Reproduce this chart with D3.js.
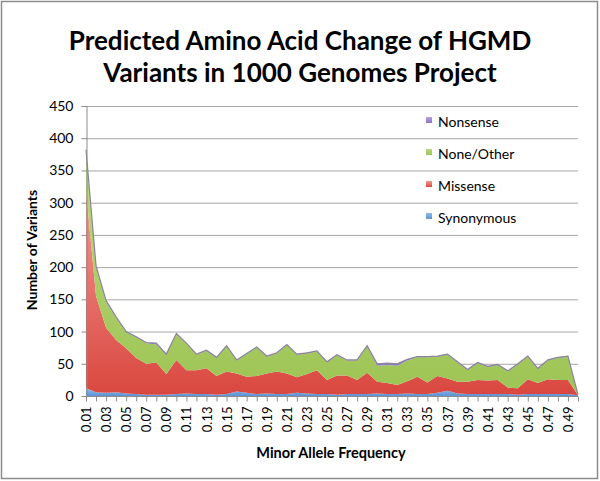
<!DOCTYPE html>
<html><head><meta charset="utf-8">
<script src="https://cdn.jsdelivr.net/npm/d3@7"></script>
<style>body{margin:0;background:#fff}svg{display:block}</style>
</head><body>
<svg id="c" width="600" height="481"></svg>
<script>
const categories = ["0.01","0.02","0.03","0.04","0.05","0.06","0.07","0.08","0.09","0.10",
"0.11","0.12","0.13","0.14","0.15","0.16","0.17","0.18","0.19","0.20",
"0.21","0.22","0.23","0.24","0.25","0.26","0.27","0.28","0.29","0.30",
"0.31","0.32","0.33","0.34","0.35","0.36","0.37","0.38","0.39","0.40",
"0.41","0.42","0.43","0.44","0.45","0.46","0.47","0.48","0.49","0.50"];
const synonymous = [12,6,5,6,4,3,2,2,2,3, 4,3,3,2,3,7,5,3,4,3, 3,5,4,3,3,2,3,3,3,4, 3,3,4,3,3,5,8,4,3,3, 3,3,3,2,3,3,3,3,3,1];
const missense   = [308,149,101,81,70,56,48,50,32,53, 36,37,40,29,35,28,25,28,31,35, 32,24,30,37,22,30,29,22,33,18, 17,14,19,27,18,26,19,18,19,22, 21,22,10,10,23,17,23,22,22,0];
const noneOther  = [58,45,40,34,25,32,32,28,30,40, 41,24,27,28,39,20,35,44,26,28, 44,35,32,29,27,31,23,30,41,25, 28,30,32,30,39,30,37,30,18,26, 21,23,25,37,35,22,29,34,36,1];
const nonsense   = [4,2,2,2,1,1,1,2,1,1, 1,1,1,1,1,1,1,1,1,1, 1,1,1,1,1,1,1,1,1,3, 3,3,2,1,1,1,1,1,1,1, 1,1,1,1,1,1,1,1,1,0];
const seriesNames = ["Synonymous","Missense","None/Other","Nonsense"];
const yTicks = [0,50,100,150,200,250,300,350,400,450];

const rows = categories.map((c,i)=>({cat:c, "Synonymous":synonymous[i], "Missense":missense[i], "None/Other":noneOther[i], "Nonsense":nonsense[i]}));
const stack = d3.stack().keys(seriesNames)(rows);

const svg = d3.select("#c");
const font = "Lato, 'Open Sans', sans-serif";
const L=86, R=578, T=106, B=396;
const x = d3.scalePoint().domain(categories).range([L,R]);
const y = d3.scaleLinear().domain([0,450]).range([B,T]);

// outer border
svg.append("rect").attr("x",1.5).attr("y",1.5).attr("width",596).attr("height",477)
  .attr("fill","#fff").attr("stroke","#8c8c8c").attr("stroke-width",1.5);

const defs = svg.append("defs");
const grads = {
  "Synonymous":["#8fbbe8","#5d93d4"],
  "Missense":["#f19a94","#d9473f"],
  "None/Other":["#bcd97a","#9dc455"],
  "Nonsense":["#b9a3d9","#8e72bf"]
};
seriesNames.forEach((k,i)=>{
  const g = defs.append("linearGradient").attr("id","g"+i).attr("x1",0).attr("y1",0).attr("x2",0).attr("y2",1);
  g.append("stop").attr("offset","0%").attr("stop-color",grads[k][0]);
  g.append("stop").attr("offset","100%").attr("stop-color",grads[k][1]);
});

// gridlines
svg.append("g").selectAll("line").data(yTicks.filter(v=>v>0)).join("line")
  .attr("x1",L).attr("x2",R).attr("y1",d=>y(d)+0.5).attr("y2",d=>y(d)+0.5)
  .attr("stroke","#a6a6a6").attr("stroke-width",1);

// areas
const area = d3.area().x(d=>x(d.data.cat)).y0(d=>y(d[0])).y1(d=>y(d[1]));
const line = d3.line().x(d=>x(d.data.cat)).y(d=>y(d[1]));
svg.append("g").selectAll("path").data(stack).join("path")
  .attr("d",area).attr("fill",(d,i)=>`url(#g${i})`);
svg.append("path").datum(stack[3]).attr("d",line).attr("fill","none")
  .attr("stroke","#8a8699").attr("stroke-width",1.2);

// y axis
const ya = svg.append("g").attr("transform",`translate(${L+0.5},0)`)
  .call(d3.axisLeft(y).tickValues(yTicks).tickSize(5).tickSizeOuter(0).tickPadding(8));
ya.select(".domain").attr("stroke","#8c8c8c");
ya.selectAll(".tick line").attr("stroke","#8c8c8c");
ya.selectAll("text").attr("font-family",font).attr("font-size",14).attr("fill","#000");

// x axis
const xa = svg.append("g").attr("transform",`translate(0,${B+0.5})`)
  .call(d3.axisBottom(x).tickSize(5).tickSizeOuter(0).tickFormat((d,i)=>i%2===0?d:""));
xa.select(".domain").attr("stroke","#8c8c8c").attr("d",`M${L},0H${R}`);
xa.selectAll(".tick line").attr("stroke","#8c8c8c");
xa.selectAll("text").attr("font-family",font).attr("font-size",13).attr("fill","#000")
  .attr("transform","rotate(-90)").attr("text-anchor","end").attr("x",-10).attr("y",0).attr("dy","0.35em");

// titles
svg.append("text").attr("x",300).attr("y",50).attr("text-anchor","middle")
  .attr("font-family",font).attr("font-weight","bold").attr("font-size",26).text("Predicted Amino Acid Change of HGMD");
svg.append("text").attr("x",300).attr("y",82).attr("text-anchor","middle")
  .attr("font-family",font).attr("font-weight","bold").attr("font-size",26).text("Variants in 1000 Genomes Project");
svg.append("text").attr("transform","translate(37,250) rotate(-90)").attr("text-anchor","middle")
  .attr("font-family",font).attr("font-weight","bold").attr("font-size",14).text("Number of Variants");
svg.append("text").attr("x",331).attr("y",458).attr("text-anchor","middle")
  .attr("font-family",font).attr("font-weight","bold").attr("font-size",14.5).text("Minor Allele Frequency");

// legend
const legendOrder = ["Nonsense","None/Other","Missense","Synonymous"];
const lg = svg.append("g").selectAll("g").data(legendOrder).join("g")
  .attr("transform",(d,i)=>`translate(426,${122+i*32})`);
lg.append("rect").attr("x",0).attr("y",-5).attr("width",6).attr("height",6)
  .attr("fill",d=>`url(#g${seriesNames.indexOf(d)})`);
lg.append("text").attr("x",12).attr("y",0).attr("dy","0.35em").attr("font-family",font).attr("font-size",14).text(d=>d);
</script>
</body></html>
